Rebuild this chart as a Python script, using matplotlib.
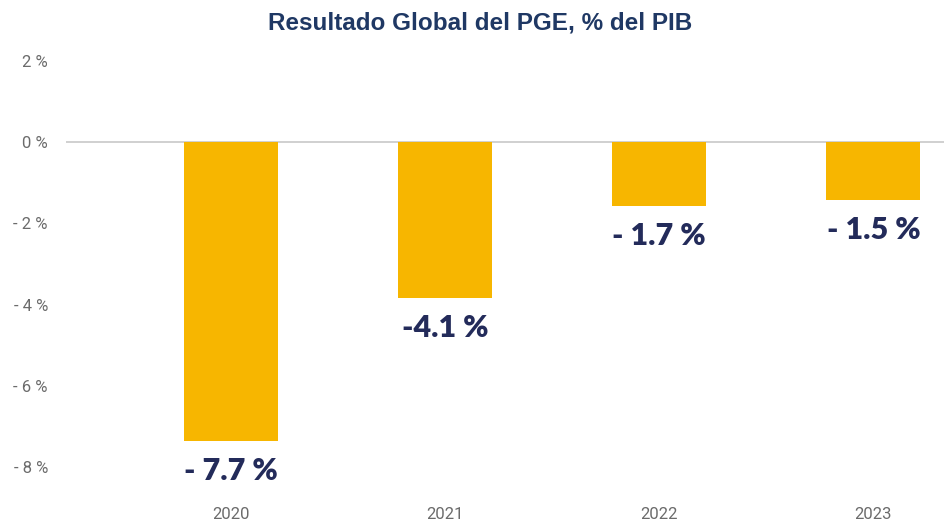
import numpy as np
import matplotlib
matplotlib.use("Agg")
import matplotlib.pyplot as plt

# datos
years = ["2020", "2021", "2022", "2023"]
values = [-7.34, -3.83, -1.57, -1.42]
labels = ["- 7.7 %", "-4.1 %", "- 1.7 %", "- 1.5 %"]
yticks = [2, 0, -2, -4, -6, -8]
ytick_labels = ["2 %", "0 %", "- 2 %", "- 4 %", "- 6 %", "- 8 %"]

W, H = 944, 524
fig = plt.figure(figsize=(W / 100, H / 100), dpi=100)

# ejes en pixeles: izquierda 66, arriba 52.5, abajo 504
top_px, bot_px = 52.5, 504
ax = fig.add_axes([66 / W, 1 - bot_px / H, 1 - 66 / W, (bot_px - top_px) / H])

x = np.arange(len(years))
ax.bar(x, values, width=0.44, color="#F7B600", zorder=2)
ax.axhline(0, color="#c8c8c8", lw=1.2, zorder=1)

ax.set_xlim(-0.77, 3.33)
ax.set_ylim(-8.9, 2.2)

ax.set_yticks(yticks)
ax.set_yticklabels(ytick_labels)
ax.set_xticks(x)
ax.set_xticklabels(years)
ax.tick_params(length=0, colors="#6b6b6b", labelsize=12)
ax.tick_params(axis="y", pad=13)
ax.tick_params(axis="x", pad=2)
for t in ax.get_xticklabels() + ax.get_yticklabels():
    t.set_family(["Roboto", "DejaVu Sans"])
for s in ax.spines.values():
    s.set_visible(False)

for xi, v, lab in zip(x, values, labels):
    ax.annotate(lab, (xi, v), xytext=(0, -22), textcoords="offset points",
                ha="center", va="center", fontsize=22, fontweight="heavy",
                color="#232B5A", family=["Lato", "DejaVu Sans"])

fig.text(480 / W, 1 - 23 / H, "Resultado Global del PGE, % del PIB",
         ha="center", va="center", fontsize=17.5, fontweight="bold",
         color="#1F3864", family=["Liberation Sans", "DejaVu Sans"])

fig.savefig("out.png", dpi=100)
